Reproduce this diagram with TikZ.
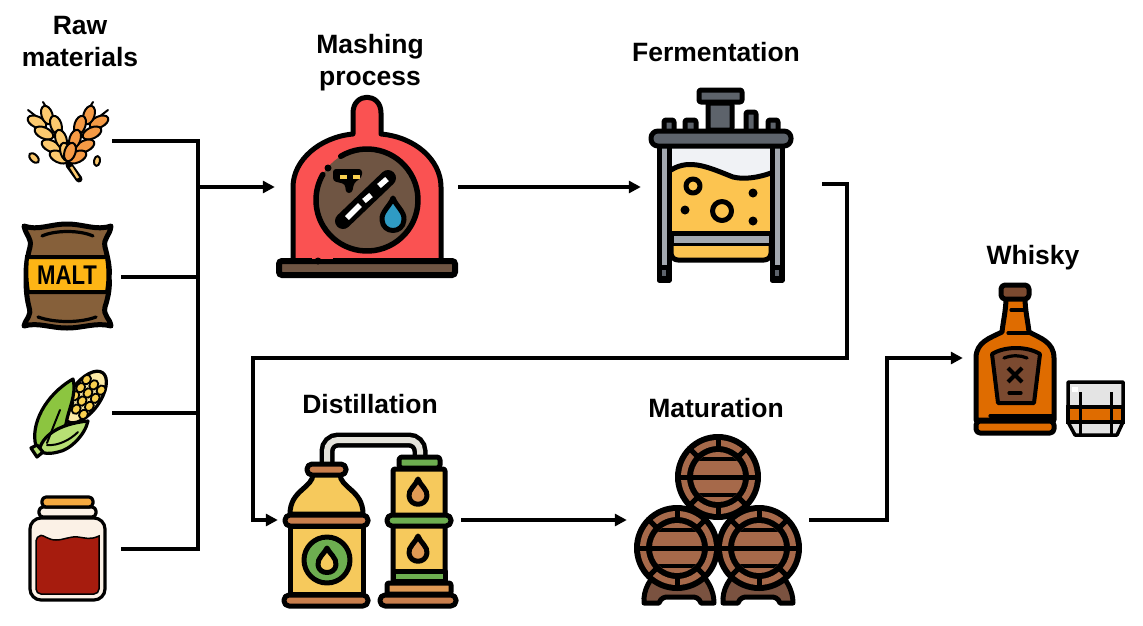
\documentclass[tikz,border=0pt]{standalone}
\usepackage{fontspec}
\setmainfont{Liberation Sans}
\usetikzlibrary{arrows.meta, positioning}
\definecolor{grainlight}{HTML}{FCC96E}
\definecolor{graindark}{HTML}{F59A45}
\definecolor{sack}{HTML}{86603A}
\definecolor{sackband}{HTML}{FDB515}
\definecolor{leaf}{HTML}{8CC540}
\definecolor{leaflight}{HTML}{B7DF74}
\definecolor{kernel}{HTML}{F8CF4F}
\definecolor{cobtip}{HTML}{FBE9A6}
\definecolor{jam}{HTML}{A61C0E}
\definecolor{lid}{HTML}{F4A940}
\definecolor{cream}{HTML}{FBF1E6}
\definecolor{bell}{HTML}{FA5252}
\definecolor{mashbrown}{HTML}{6F5543}
\definecolor{waterdrop}{HTML}{2F9BC4}
\definecolor{steel}{HTML}{5D636B}
\definecolor{legsteel}{HTML}{A3A8AF}
\definecolor{beer}{HTML}{FCC450}
\definecolor{foam}{HTML}{F0F2F5}
\definecolor{stillbody}{HTML}{F6C95C}
\definecolor{copper}{HTML}{C97E4C}
\definecolor{copperlight}{HTML}{E09A55}
\definecolor{stillgreen}{HTML}{6DAE50}
\definecolor{pipe}{HTML}{E4E2DA}
\definecolor{stave}{HTML}{A6694A}
\definecolor{stand}{HTML}{7A5240}
\definecolor{whisky}{HTML}{DF6C00}
\definecolor{tag}{HTML}{7B4A30}
\definecolor{glass}{HTML}{E4E4E4}
\tikzstyle{iconbox} = [rectangle, inner sep=0pt]
\tikzstyle{heading} = [align=center, inner sep=0pt, font=\bfseries\fontsize{26.5}{32}\selectfont]
\tikzstyle{link} = [line width=3.5pt]
\tikzstyle{arrow} = [line width=3.5pt, -{Stealth[length=12pt, width=12pt, inset=0pt]}]
\tikzstyle{ink} = [draw=black, line width=5pt, line join=round, line cap=round]
\tikzstyle{thinink} = [draw=black, line width=3.2pt, line join=round, line cap=round]
\tikzstyle{grainink} = [draw=black, line width=2pt, line join=round, line cap=round]

\begin{document}
\begin{tikzpicture}[x=1pt, y=-1pt]
    \useasboundingbox (0,0) rectangle (1143,625);

    \foreach \flip/\col in {1/grainlight, -1/graindark} {
        \begin{scope}[shift={(68,0)}, xscale=\flip]
            \draw[grainink] (-40,110) -- (-31,117);
            \draw[grainink] (-25,102) -- (-20,110);
            \foreach \dx/\dy in {-31/122, -24/133, -17/146, -9/157}
                \draw[grainink, fill=\col] (\dx,\dy) ellipse [x radius=10pt, y radius=5.5pt, rotate=-25];
            \foreach \dx/\dy in {-21/115, -12/125, -7/139, -2/152}
                \draw[grainink, fill=\col] (\dx,\dy) ellipse [x radius=9.5pt, y radius=5.5pt, rotate=108];
        \end{scope}
    }
    \draw[line width=7pt, line cap=round] (69,165) -- (79,179);
    \draw[line width=2.5pt, grainlight] (71,167) -- (78,178);
    \draw[grainink, fill=grainlight] (34,158) ellipse [x radius=6pt, y radius=3.5pt, rotate=-45];
    \draw[grainink, fill=grainlight] (97,161) ellipse [x radius=5pt, y radius=3pt, rotate=80];
    \node[iconbox, minimum width=88pt, minimum height=88pt] (wheat) at (68,141) {};

    \draw[ink, fill=sack] (24,226) .. controls (38,231) and (50,224) .. (67,224) .. controls (84,224) and (96,231) .. (111,226)
        .. controls (110,236) and (103,238) .. (105,247) .. controls (109,262) and (110,270) .. (109,277) .. controls (110,285) and (109,295) .. (105,307)
        .. controls (103,316) and (110,318) .. (111,326) .. controls (96,322) and (84,328) .. (67,328) .. controls (50,328) and (38,322) .. (24,326)
        .. controls (26,318) and (32,316) .. (29,307) .. controls (26,295) and (26,285) .. (26,277) .. controls (26,270) and (26,262) .. (30,247)
        .. controls (32,238) and (26,236) .. (24,226) -- cycle;
    \draw[line width=4pt, fill=sackband] (27,257) -- (107,257) .. controls (109,270) and (109,280) .. (107,292) -- (28,292) .. controls (26,280) and (26,270) .. (27,257) -- cycle;
    \draw[thinink] (42,236) .. controls (55,230) and (80,230) .. (93,236);
    \draw[thinink] (38,317) .. controls (55,323) and (80,323) .. (96,317);
    \node[iconbox] (maltword) at (67,275) {\fontsize{27}{27}\selectfont\bfseries\scalebox{.82}[1]{MALT}};
    \node[iconbox, minimum width=106pt, minimum height=106pt] (malt) at (68,277) {};

    \begin{scope}[shift={(85,397)}, rotate=54]
        \draw[thinink, fill=cobtip] (0,0) ellipse [x radius=30pt, y radius=15pt];
        \foreach \u in {-15,-5,5,15}
            \foreach \v in {-9,0,9}
                \draw[line width=1.8pt, fill=kernel] (\u,\v) ellipse [x radius=5pt, y radius=4.2pt];
    \end{scope}
    \draw[thinink, fill=leaf] (36,446) .. controls (30,425) and (45,395) .. (73,379) .. controls (77,395) and (68,410) .. (66,424) -- (50,450) -- cycle;
    \draw[thinink, fill=leaflight] (39,451) .. controls (42,436) and (58,424) .. (88,421) .. controls (85,435) and (70,450) .. (58,452) .. controls (50,454) and (44,454) .. (39,451) -- cycle;
    \draw[line width=2pt, line cap=round] (47,443) .. controls (50,435) and (54,425) .. (60,410);
    \draw[line width=2pt, line cap=round] (47,445) .. controls (58,446) and (70,440) .. (78,432);
    \draw[thinink, fill=leaflight] (31,448) -- (37,445) -- (43,452) -- (37,457) -- cycle;
    \node[iconbox, minimum width=88pt, minimum height=88pt] (corn) at (68,413) {};

    \draw[thinink, fill=cream, rounded corners=11pt] (30,518) rectangle (105,600);
    \draw[thinink, fill=cream, rounded corners=4pt] (39,507) rectangle (96,517);
    \draw[thinink, fill=lid, rounded corners=4pt] (42,497) rectangle (93,507);
    \draw[line width=1.5pt, fill=jam] (36,536) .. controls (44,535) and (48,540) .. (56,540) .. controls (64,540) and (70,536) .. (78,537) .. controls (86,538) and (90,540) .. (99,536) [rounded corners=5pt] -- (99,594) -- (36,594) -- cycle;
    \node[iconbox, minimum width=106pt, minimum height=106pt] (jar) at (68,549) {};

    \draw[ink, fill=bell] (293,262) -- (293,187) .. controls (293,160) and (320,137) .. (353,134) -- (353,113) .. controls (353,92) and (381,92) .. (381,113) -- (381,134) .. controls (415,137) and (441,160) .. (441,187) -- (441,262);
    \fill[mashbrown] (367,200) circle [radius=51pt];
    \draw[line width=5.5pt, line cap=round] (367,200) ++(121:51pt) arc [start angle=121, end angle=-210, radius=51pt];
    \fill (328,168) circle [radius=3.5pt];
    \draw[line width=16pt, line cap=round] (343,221) -- (388,178);
    \draw[line width=5.5pt, white] (347,218) -- (360,205);
    \draw[line width=5.5pt, white] (364,201) -- (371,195);
    \draw[line width=5.5pt, white] (379,186) -- (387,179);
    \fill[rounded corners=3pt] (333,169) -- (362,169) -- (362,177) -- (354,183) -- (352,193) -- (346,193) -- (345,184) -- (333,181) -- cycle;
    \fill[kernel] (340,175) rectangle (347,179);
    \fill[kernel] (353,175) rectangle (360,179);
    \draw[line width=5pt, line join=round, fill=waterdrop] (393,198) .. controls (396,206) and (405,212) .. (404,220) .. controls (403,234) and (383,234) .. (382,220) .. controls (381,212) and (390,206) .. (393,198) -- cycle;
    \draw[line width=6pt, fill=mashbrown, rounded corners=3pt] (279,261) rectangle (455,275);
    \fill[bell] (312,255) rectangle (333,258.5);
    \fill (318,261) circle [radius=3.5pt];
    \node[iconbox, minimum width=183pt, minimum height=183pt] (mash) at (366.5,187) {};

    \draw[ink, fill=steel, rounded corners=2pt] (708,103) rectangle (732,130);
    \draw[ink, fill=steel, rounded corners=2pt] (699,90) rectangle (742,102);
    \foreach \kx/\ky/\kw/\kh in {664/120/10/12, 685/120/11/12, 746/112/10/20, 768/120/10/12}
        \draw[ink, fill=steel, rounded corners=2pt] (\kx,\ky) rectangle ++(\kw,\kh);
    \fill[foam] (671,147) rectangle (771,175);
    \fill[beer] (671,170) .. controls (690,158) and (710,168) .. (733,177) .. controls (745,180) and (760,177) .. (771,173) -- (771,233) -- (671,233) -- cycle;
    \draw[ink] (671,170) .. controls (690,158) and (710,168) .. (733,177) .. controls (745,180) and (760,177) .. (771,173);
    \draw[ink, fill=beer] (693,186) circle [radius=7pt];
    \draw[ink, fill=beer] (722,211) circle [radius=9.5pt];
    \foreach \dx/\dy in {753/193, 685/210, 753/221}
        \fill (\dx,\dy) circle [radius=4.5pt];
    \draw[ink, fill=legsteel] (671,233) rectangle (771,245);
    \draw[ink, fill=beer, rounded corners=7pt] (671,246) -- (671,260) -- (771,260) -- (771,246);
    \foreach \lx in {659,772} {
        \draw[line width=5pt, line join=round, fill=legsteel] (\lx,145) rectangle ++(10,135);
        \fill (\lx,265) rectangle ++(10,15);
        \fill[steel] (\lx+3,270) rectangle ++(4,6);
    }
    \draw[ink, fill=steel, rounded corners=7pt] (651,131) rectangle (791,146);
    \node[iconbox, minimum width=181pt, minimum height=195pt] (ferment) at (731.5,187) {};

    \draw[line width=15pt, rounded corners=11pt] (327,464) -- (327,440) -- (420,440) -- (420,462);
    \draw[line width=6pt, pipe, rounded corners=11pt] (327,464) -- (327,440) -- (420,440) -- (420,458);
    \draw[ink, fill=stillbody] (313,474) .. controls (313,488) and (290,490) .. (290,514) -- (363,514) .. controls (363,490) and (340,488) .. (340,474) -- cycle;
    \draw[ink, fill=copper, rounded corners=5pt] (307,464) rectangle (346,475);
    \draw[ink, fill=stillbody] (290,526) rectangle (363,594);
    \draw[ink, fill=copper, rounded corners=5pt] (285,515) rectangle (368,526);
    \draw[ink, fill=copper, rounded corners=5pt] (284,595) rectangle (368,606);
    \draw[ink, fill=stillgreen] (327,560) circle [radius=23pt];
    \draw[ink, fill=stillbody] (327,548) .. controls (329,553) and (337,558) .. (336,565) .. controls (335,575) and (319,575) .. (318,565) .. controls (317,558) and (325,553) .. (327,548) -- cycle;
    \draw[ink, fill=stillbody, rounded corners=2pt] (393,469) rectangle (445,582);
    \draw[ink, fill=stillgreen, rounded corners=3pt] (399,457) rectangle (440,468);
    \draw[ink, fill=stillgreen, rounded corners=5pt] (387,515) rectangle (451,526);
    \draw[ink, fill=stillgreen] (393,571) rectangle (445,581);
    \draw[ink, fill=copperlight, rounded corners=2pt] (387,583) rectangle (451,594);
    \draw[ink, fill=copper, rounded corners=5pt] (380,595) rectangle (456,606);
    \foreach \dy in {479,536}
        \draw[ink, fill=copperlight] (418,\dy) .. controls (420,\dy+6) and (428,\dy+11) .. (427,\dy+17) .. controls (426,\dy+28) and (410,\dy+28) .. (409,\dy+17) .. controls (408,\dy+11) and (416,\dy+6) .. (418,\dy) -- cycle;
    \node[iconbox, minimum width=183pt, minimum height=175pt] (still) at (369.5,520) {};

    \foreach \sx in {0,79}
        \draw[ink, fill=stand, shift={(\sx,0)}] (644,603) .. controls (643,590) and (650,578) .. (660,570) -- (697,570) .. controls (707,578) and (714,590) .. (714,603) -- (701,603) .. controls (699,598) and (696,597) .. (692,597) -- (668,597) .. controls (664,597) and (661,598) .. (659,603) -- cycle;
    \foreach \bx/\by in {718/477, 759/548, 677/548} {
        \begin{scope}[shift={(\bx,\by)}]
            \fill (0,0) circle [radius=43pt];
            \draw[line width=6pt, stave] (0,0) circle [radius=34pt];
            \foreach \a in {0,45,...,315}
                \draw[line width=5pt] (\a:28pt) -- (\a:39pt);
            \fill[stave] (0,0) circle [radius=25pt];
            \begin{scope}
                \clip (0,0) circle [radius=25pt];
                \foreach \ly in {-18,18}
                    \draw[line width=4pt] (-25,\ly) -- (25,\ly);
            \end{scope}
            \draw[line width=5pt] (-40,0) -- (40,0);
        \end{scope}
    }
    \node[iconbox, minimum width=182pt, minimum height=175pt] (barrels) at (718,520) {};

    \draw[ink, fill=whisky] (1006,298) .. controls (1006,310) and (1003,322) .. (1002,332) .. controls (990,338) and (976,342) .. (976,358) -- (976,420) -- (1054,420) -- (1054,358) .. controls (1054,342) and (1040,338) .. (1029,332) .. controls (1028,322) and (1025,310) .. (1025,298) -- cycle;
    \draw[ink, fill=whisky, rounded corners=4pt] (976,421) rectangle (1054,433);
    \draw[ink, fill=tag, rounded corners=4pt] (1001,285) rectangle (1029,299);
    \draw[line width=4pt, line join=round, fill=tag] (992,354) .. controls (1005,346) and (1027,346) .. (1040,354) -- (1034,403) -- (998,403) -- cycle;
    \draw[thinink] (1004,358) .. controls (1012,355) and (1020,355) .. (1027,358);
    \draw[thinink] (1009,393) -- (1021,393);
    \draw[line width=4pt] (1008,368) -- (1022,382);
    \draw[line width=4pt] (1022,368) -- (1008,382);
    \draw[thinink] (1011,310) -- (1026,310);
    \draw[thinink] (1008,333) -- (1030,333);
    \draw[thinink] (990,416) -- (1052,416);
    \draw[line width=3.5pt, line join=round, fill=glass] (1068,382) -- (1123,382) -- (1123,422) -- (1117,435) -- (1075,435) -- (1068,422) -- cycle;
    \fill[white] (1072,387) rectangle (1078,392);
    \draw[line width=3.5pt, fill=whisky] (1068,407) rectangle (1123,422);
    \draw[line width=3pt] (1080,392) -- (1080,434);
    \draw[line width=3pt] (1111,392) -- (1111,434);
    \node[iconbox, minimum width=174pt, minimum height=160pt] (bottle) at (1050,358) {};

    \node[heading, above=30pt of wheat, xshift=12pt] (rawhead) {Raw\\materials};
    \node[heading, above=4pt of mash, xshift=3.5pt] (mashhead) {Mashing\\process};
    \node[heading, above=27pt of ferment, xshift=-15.5pt] (fermenthead) {Fermentation};
    \node[heading, above=18pt of still, xshift=0.5pt] (stillhead) {Distillation};
    \node[heading, above=14pt of barrels, xshift=-2pt] (barrelhead) {Maturation};
    \node[heading, above=8pt of bottle, xshift=-17pt] (bottlehead) {Whisky};

    \coordinate (hub) at (198,187);
    \coordinate (crossover) at (847,358);
    \draw[link] (wheat.east) -| (hub);
    \draw[link] (malt.east) -- (malt.east -| hub);
    \draw[link] (corn.east) -- (corn.east -| hub);
    \draw[link] (hub) |- (jar.east);
    \draw[arrow] (hub) -- (mash.west);
    \draw[arrow] (mash.east) -- (ferment.west);
    \draw[arrow] ([yshift=3pt]ferment.east) -| (crossover) -- (253,358) |- (still.west);
    \draw[arrow] (still.east) -- (barrels.west);
    \draw[arrow] (barrels.east) -| (887,358) -- (bottle.west);
\end{tikzpicture}
\end{document}
